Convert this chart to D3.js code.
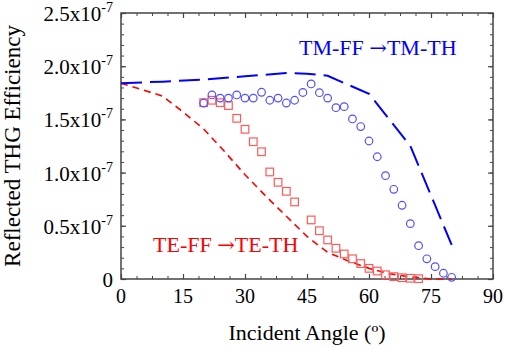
<!DOCTYPE html>
<html>
<head>
<meta charset="utf-8">
<script src="https://cdn.jsdelivr.net/npm/d3@7"></script>
</head>
<body style="margin:0">
<svg id="chart" width="505" height="348"></svg>
<script>
// angles in degrees, efficiency in units of 1e-7
const tmLineAngle = [0, 10, 20, 30, 40, 45, 50, 60, 70, 80];
const tmLineValue = [1.84, 1.855, 1.875, 1.905, 1.935, 1.93, 1.91, 1.74, 1.25, 0.32];

const teLineAngle = [0, 10, 15, 20, 25, 30, 35, 40, 45, 50, 55, 60, 65, 70, 75, 80];
const teLineValue = [1.84, 1.72, 1.57, 1.41, 1.20, 0.98, 0.78, 0.59, 0.40, 0.25, 0.17, 0.10, 0.05, 0.02, 0.0, 0.0];

const tmDotAngle = [20, 22, 24, 26, 28, 30, 32, 34, 36, 38, 40, 42, 44, 46, 48, 50, 52, 54, 56, 58, 60, 62, 64, 66, 68, 70, 72, 74, 76, 78, 80];
const tmDotValue = [1.654, 1.73, 1.70, 1.70, 1.73, 1.70, 1.70, 1.755, 1.68, 1.70, 1.654, 1.68, 1.753, 1.833, 1.751, 1.70, 1.61, 1.62, 1.504, 1.433, 1.297, 1.149, 0.971, 0.843, 0.693, 0.52, 0.313, 0.19, 0.116, 0.054, 0.016];

const teDotAngle = [20, 22, 24, 26, 28, 30, 32, 34, 36, 38, 40, 42, 46, 48, 50, 52, 54, 56, 58, 60, 62, 64, 66, 68, 70, 72];
const teDotValue = [1.657, 1.68, 1.657, 1.63, 1.51, 1.407, 1.29, 1.196, 1.006, 0.909, 0.824, 0.724, 0.555, 0.454, 0.367, 0.289, 0.235, 0.19, 0.145, 0.10, 0.075, 0.04, 0.022, 0.012, 0.007, 0.003];

const xTicks = [0, 15, 30, 45, 60, 75, 90];
const yTicks = [0, 0.5, 1.0, 1.5, 2.0, 2.5];
const yTickLabels = ["0", "0.5x10", "1.0x10", "1.5x10", "2.0x10", "2.5x10"];
const yTickExp = "-7";

const FONT = '"Liberation Serif", "Times New Roman"';

const config = {
    width: 505,
    height: 348,
    margin: {top: 13, right: 12, bottom: 69, left: 121}
};

const svg = d3.select('#chart');

const innerW = config.width - config.margin.left - config.margin.right;
const innerH = config.height - config.margin.top - config.margin.bottom;

const chart = svg.append('g')
    .attr('transform', `translate(${config.margin.left},${config.margin.top})`);

const xScale = d3.scaleLinear().domain([0, 90]).range([0, innerW]);
const yScale = d3.scaleLinear().domain([0, 2.5]).range([innerH, 0]);

const frameColor = '#444';

// minor + major ticks, pointing inward on all four sides
const xMinor = d3.range(0, 90.01, 3.75);
const yMinor = d3.range(0, 2.501, 0.1);

function tickAxis(axisFn, scale, values, size) {
    return axisFn(scale).tickValues(values).tickSize(size).tickFormat('');
}

const axes = [
    {fn: d3.axisBottom, s: xScale, t: `translate(0,${innerH})`, minor: xMinor, major: xTicks},
    {fn: d3.axisTop, s: xScale, t: 'translate(0,0)', minor: xMinor, major: xTicks},
    {fn: d3.axisLeft, s: yScale, t: 'translate(0,0)', minor: yMinor, major: yTicks},
    {fn: d3.axisRight, s: yScale, t: `translate(${innerW},0)`, minor: yMinor, major: yTicks}
];

axes.forEach(a => {
    chart.append('g')
        .attr('transform', a.t)
        .call(tickAxis(a.fn, a.s, a.minor, -3))
        .call(g => g.select('.domain').remove())
        .call(g => g.selectAll('line').attr('stroke', frameColor).attr('stroke-width', 1));
    chart.append('g')
        .attr('transform', a.t)
        .call(tickAxis(a.fn, a.s, a.major, -5))
        .call(g => g.select('.domain').remove())
        .call(g => g.selectAll('line').attr('stroke', frameColor).attr('stroke-width', 1.2));
});

// frame
chart.append('rect')
    .attr('x', 0).attr('y', 0)
    .attr('width', innerW).attr('height', innerH)
    .attr('fill', 'none')
    .attr('stroke', frameColor)
    .attr('stroke-width', 1.5);

// x tick labels
chart.selectAll('.x-label')
    .data(xTicks)
    .join('text')
    .attr('class', 'x-label')
    .attr('x', d => xScale(d))
    .attr('y', innerH + 24)
    .attr('text-anchor', 'middle')
    .attr('font-size', 20)
    .style('font-family', FONT)
    .text(d => d);

// y tick labels with superscript exponent
const yLab = chart.selectAll('.y-label')
    .data(yTicks)
    .join('text')
    .attr('class', 'y-label')
    .attr('x', -8)
    .attr('y', d => yScale(d) + 8)
    .attr('text-anchor', 'end')
    .attr('font-size', 21)
    .style('font-family', FONT);

yLab.each(function(d, i) {
    const t = d3.select(this);
    t.append('tspan').text(yTickLabels[i]);
    if (i > 0) {
        t.append('tspan')
            .attr('font-size', 14)
            .attr('dy', -9)
            .attr('dx', 0)
            .text(yTickExp);
    }
});

// curves
const line = d3.line()
    .x(d => xScale(d[0]))
    .y(d => yScale(d[1]));

chart.append('path')
    .datum(teLineAngle.map((a, i) => [a, teLineValue[i]]))
    .attr('d', line)
    .attr('fill', 'none')
    .attr('stroke', '#ff0000')
    .attr('stroke-width', 1.6)
    .attr('stroke-dasharray', '7,5');

chart.append('path')
    .datum(tmLineAngle.map((a, i) => [a, tmLineValue[i]]))
    .attr('d', line)
    .attr('fill', 'none')
    .attr('stroke', '#0000ff')
    .attr('stroke-width', 2)
    .attr('stroke-dasharray', '21,8');

// markers
chart.selectAll('.sq')
    .data(teDotAngle.map((a, i) => [a, teDotValue[i]]))
    .join('rect')
    .attr('class', 'sq')
    .attr('x', d => xScale(d[0]) - 3.8)
    .attr('y', d => yScale(d[1]) - 3.8)
    .attr('width', 7.6)
    .attr('height', 7.6)
    .attr('fill', 'none')
    .attr('stroke', '#ff5a5a')
    .attr('stroke-width', 1.2);

chart.selectAll('.dot')
    .data(tmDotAngle.map((a, i) => [a, tmDotValue[i]]))
    .join('circle')
    .attr('class', 'dot')
    .attr('cx', d => xScale(d[0]))
    .attr('cy', d => yScale(d[1]))
    .attr('r', 3.8)
    .attr('fill', 'none')
    .attr('stroke', '#5050ff')
    .attr('stroke-width', 1.2);

// series labels: arrow drawn from a wider glyph
function seriesLabel(x, y, color, from, to) {
    const t = svg.append('text')
        .attr('x', x)
        .attr('y', y)
        .attr('font-size', 22)
        .attr('fill', color)
        .style('font-family', FONT);
    t.append('tspan').text(from + ' ');
    t.append('tspan').style('font-family', '"DejaVu Serif"').attr('font-size', 21).text('\u2192');
    t.append('tspan').text(to);
}
seriesLabel(299, 55, '#0000ff', 'TM-FF', 'TM-TH');
seriesLabel(153, 252, '#ff0000', 'TE-FF', 'TE-TH');

// axis titles
svg.append('text')
    .attr('x', config.margin.left + innerW / 2)
    .attr('y', 340)
    .attr('text-anchor', 'middle')
    .attr('font-size', 22)
    .style('font-family', FONT)
    .text('Incident Angle (\u00ba)');

svg.append('text')
    .attr('transform', `translate(20,${config.margin.top + innerH / 2}) rotate(-90)`)
    .attr('text-anchor', 'middle')
    .attr('font-size', 23)
    .style('font-family', FONT)
    .text('Reflected THG Efficiency');
</script>
</body>
</html>
